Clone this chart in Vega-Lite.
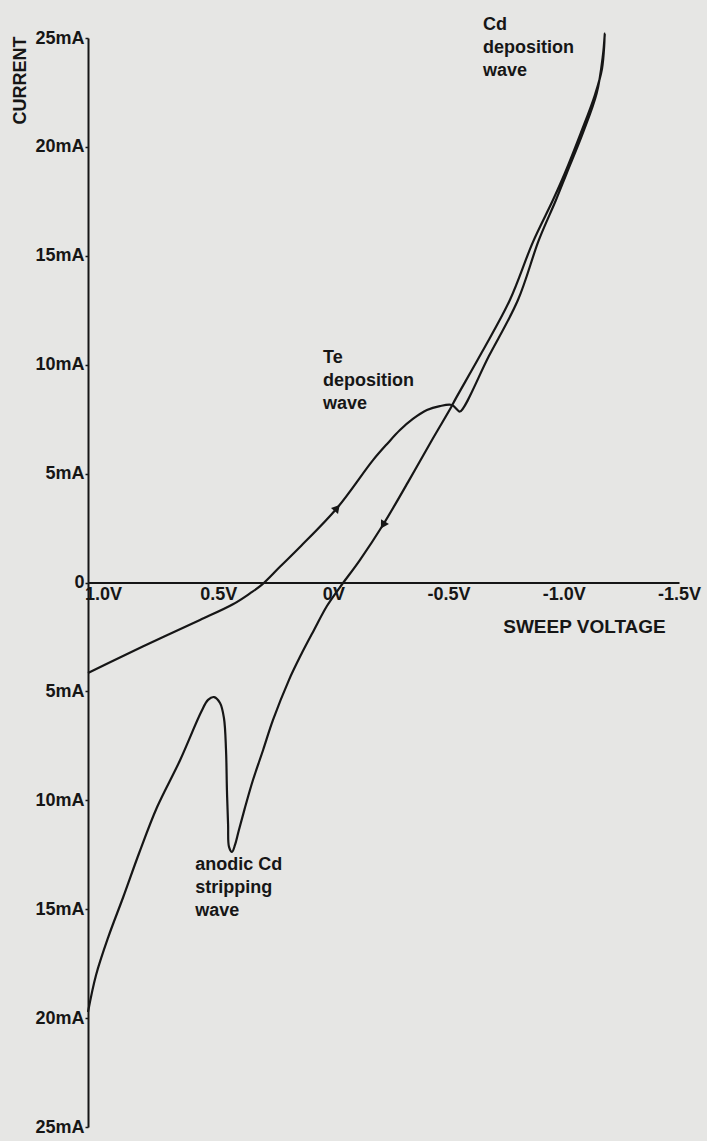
{
  "$schema": "https://vega.github.io/schema/vega-lite/v6.json",
  "width": 591,
  "height": 1089,
  "autosize": {"type": "none"},
  "padding": {"left": 88, "top": 38, "right": 28, "bottom": 14},
  "background": "#e6e6e4",
  "config": {"view": {"stroke": null}, "font": "Liberation Sans"},
  "datasets": {
    "curve": [
      {"i": 0, "v": 1.065, "I": -4.16},
      {"i": 1, "v": 0.904, "I": -3.33},
      {"i": 2, "v": 0.739, "I": -2.5},
      {"i": 3, "v": 0.579, "I": -1.72},
      {"i": 4, "v": 0.436, "I": -1.0},
      {"i": 5, "v": 0.362, "I": -0.5},
      {"i": 6, "v": 0.31, "I": -0.1},
      {"i": 7, "v": 0.232, "I": 0.72},
      {"i": 8, "v": 0.145, "I": 1.63},
      {"i": 9, "v": -0.016, "I": 3.42},
      {"i": 10, "v": -0.172, "I": 5.62},
      {"i": 11, "v": -0.237, "I": 6.41},
      {"i": 12, "v": -0.289, "I": 7.0},
      {"i": 13, "v": -0.345, "I": 7.51},
      {"i": 14, "v": -0.406, "I": 7.92},
      {"i": 15, "v": -0.462, "I": 8.1},
      {"i": 16, "v": -0.514, "I": 8.15},
      {"i": 17, "v": -0.536, "I": 7.95},
      {"i": 18, "v": -0.549, "I": 7.85},
      {"i": 19, "v": -0.675, "I": 10.4},
      {"i": 20, "v": -0.801, "I": 12.97},
      {"i": 21, "v": -0.892, "I": 15.73},
      {"i": 22, "v": -0.966, "I": 17.56},
      {"i": 23, "v": -1.013, "I": 18.8},
      {"i": 24, "v": -1.083, "I": 20.64},
      {"i": 25, "v": -1.143, "I": 22.47},
      {"i": 26, "v": -1.17, "I": 24.22},
      {"i": 27, "v": -1.178, "I": 25.2},
      {"i": 28, "v": -1.166, "I": 23.6},
      {"i": 29, "v": -1.135, "I": 22.38},
      {"i": 30, "v": -1.074, "I": 20.64},
      {"i": 31, "v": -1.005, "I": 18.8},
      {"i": 32, "v": -0.953, "I": 17.56},
      {"i": 33, "v": -0.866, "I": 15.63},
      {"i": 34, "v": -0.766, "I": 12.97},
      {"i": 35, "v": -0.645, "I": 10.58},
      {"i": 36, "v": -0.523, "I": 8.29},
      {"i": 37, "v": -0.514, "I": 8.1},
      {"i": 38, "v": -0.428, "I": 6.54},
      {"i": 39, "v": -0.324, "I": 4.61},
      {"i": 40, "v": -0.215, "I": 2.64},
      {"i": 41, "v": -0.115, "I": 1.03},
      {"i": 42, "v": -0.029, "I": -0.21},
      {"i": 43, "v": 0.028, "I": -1.08},
      {"i": 44, "v": 0.084, "I": -2.18},
      {"i": 45, "v": 0.141, "I": -3.33},
      {"i": 46, "v": 0.193, "I": -4.48},
      {"i": 47, "v": 0.262, "I": -6.31},
      {"i": 48, "v": 0.305, "I": -7.69},
      {"i": 49, "v": 0.349, "I": -9.07},
      {"i": 50, "v": 0.383, "I": -10.31},
      {"i": 51, "v": 0.41, "I": -11.36},
      {"i": 52, "v": 0.427, "I": -12.05},
      {"i": 53, "v": 0.44, "I": -12.37},
      {"i": 54, "v": 0.453, "I": -12.14},
      {"i": 55, "v": 0.457, "I": -11.13},
      {"i": 56, "v": 0.462, "I": -9.53},
      {"i": 57, "v": 0.466, "I": -7.69},
      {"i": 58, "v": 0.475, "I": -6.22},
      {"i": 59, "v": 0.492, "I": -5.53},
      {"i": 60, "v": 0.518, "I": -5.26},
      {"i": 61, "v": 0.544, "I": -5.39},
      {"i": 62, "v": 0.574, "I": -5.95},
      {"i": 63, "v": 0.665, "I": -8.15},
      {"i": 64, "v": 0.765, "I": -10.31},
      {"i": 65, "v": 0.843, "I": -12.42},
      {"i": 66, "v": 0.912, "I": -14.44},
      {"i": 67, "v": 0.977, "I": -16.28},
      {"i": 68, "v": 1.03, "I": -18.02},
      {"i": 69, "v": 1.065, "I": -19.72}
    ],
    "arrows": [
      {"v": -0.016, "I": 3.42, "dir": "up"},
      {"v": -0.215, "I": 2.64, "dir": "down"}
    ],
    "notes": [
      {"v": -0.649, "I": 25.37, "t": "Cd\ndeposition\nwave"},
      {"v": 0.045, "I": 10.08, "t": "Te\ndeposition\nwave"},
      {"v": 0.6, "I": -13.2, "t": "anodic Cd\nstripping\nwave"}
    ]
  },
  "encoding": {
    "x": {
      "field": "v",
      "type": "quantitative",
      "scale": {"domain": [-1.5, 1.065], "reverse": true, "nice": false, "zero": false},
      "axis": {
        "values": [1, 0.5, 0, -0.5, -1, -1.5],
        "labelExpr": "datum.value == 0 ? '0V' : (datum.value < 0 ? '-' : '') + format(abs(datum.value), '.1f') + 'V'",
        "offset": -544.5,
        "ticks": false,
        "grid": false,
        "domainColor": "#161616",
        "domainWidth": 2,
        "labelFont": "Liberation Sans",
        "labelFontWeight": "bold",
        "labelFontSize": 18,
        "labelColor": "#161616",
        "labelPadding": 3,
        "labelFlush": false,
        "labelOverlap": false,
        "labelBound": false,
        "title": "SWEEP VOLTAGE",
        "titleFont": "Liberation Sans",
        "titleFontWeight": "bold",
        "titleFontSize": 19,
        "titleColor": "#161616",
        "titleX": 496,
        "titleY": 50,
        "titleAlign": "center",
        "titleBaseline": "alphabetic"
      }
    },
    "y": {
      "field": "I",
      "type": "quantitative",
      "scale": {"domain": [-25, 25], "nice": false, "zero": false},
      "axis": {
        "values": [25, 20, 15, 10, 5, 0, -5, -10, -15, -20, -25],
        "labelExpr": "datum.value == 0 ? '0' : format(abs(datum.value), 'd') + 'mA'",
        "grid": false,
        "domainColor": "#161616",
        "domainWidth": 2,
        "tickColor": "#161616",
        "tickSize": 3,
        "tickWidth": 1.5,
        "labelFont": "Liberation Sans",
        "labelFontWeight": "bold",
        "labelFontSize": 18,
        "labelColor": "#161616",
        "labelPadding": 1,
        "labelOverlap": false,
        "labelBound": false,
        "labelFlush": false,
        "title": "CURRENT",
        "titleFont": "Liberation Sans",
        "titleFontWeight": "bold",
        "titleFontSize": 18,
        "titleColor": "#161616",
        "titleAngle": -90,
        "titleX": -68,
        "titleY": 42,
        "titleAlign": "center",
        "titleBaseline": "middle"
      }
    }
  },
  "layer": [
    {
      "data": {"name": "curve"},
      "mark": {"type": "line", "color": "#161616", "strokeWidth": 2.2, "strokeJoin": "round", "interpolate": "catmull-rom", "clip": false},
      "encoding": {"order": {"field": "i", "type": "quantitative"}}
    },
    {
      "data": {"name": "arrows"},
      "transform": [{"filter": "datum.dir == 'up'"}],
      "mark": {"type": "point", "shape": "triangle-up", "filled": true, "size": 85, "angle": 40, "color": "#161616", "opacity": 1}
    },
    {
      "data": {"name": "arrows"},
      "transform": [{"filter": "datum.dir == 'down'"}],
      "mark": {"type": "point", "shape": "triangle-up", "filled": true, "size": 85, "angle": 211, "color": "#161616", "opacity": 1}
    },
    {
      "data": {"name": "notes"},
      "mark": {"type": "text", "align": "left", "baseline": "alphabetic", "lineBreak": "\n", "lineHeight": 23, "font": "Liberation Sans", "fontWeight": "bold", "fontSize": 18, "color": "#161616", "clip": false},
      "encoding": {"text": {"field": "t", "type": "nominal"}}
    }
  ]
}
